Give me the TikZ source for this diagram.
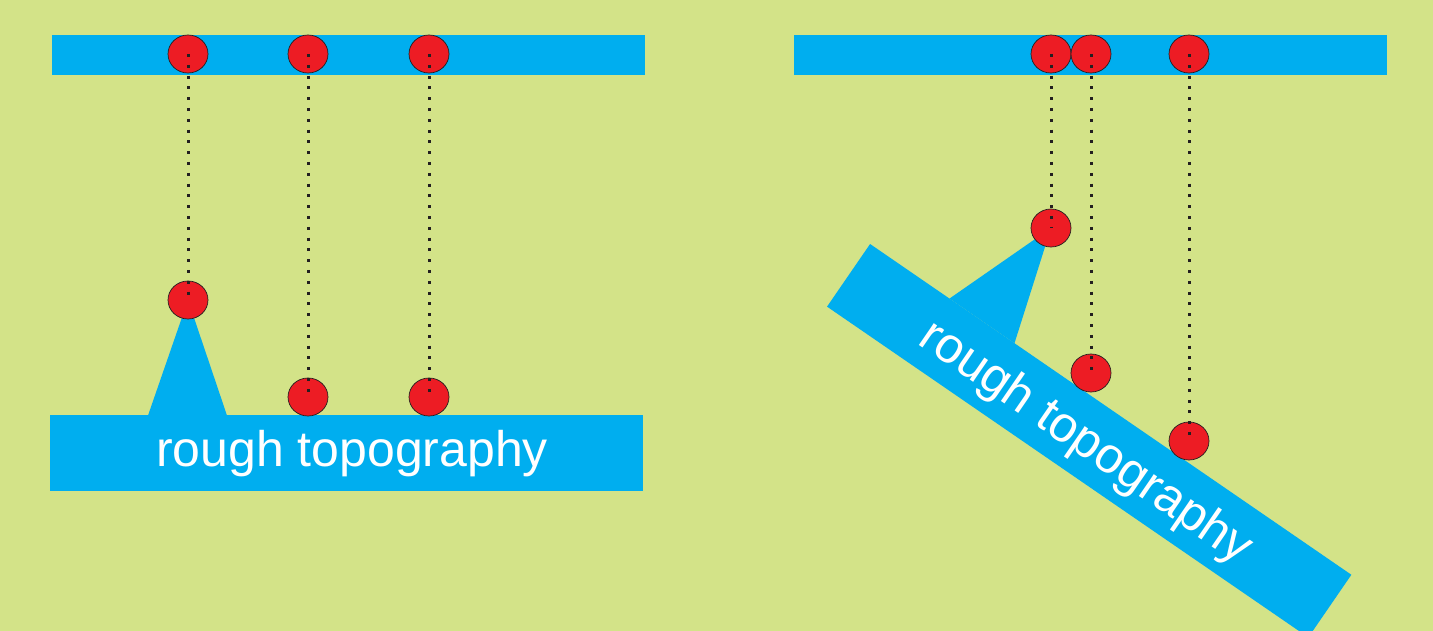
\documentclass[tikz,border=0pt]{standalone}
\usepackage{fontspec}
\setmainfont{Liberation Sans}
\usetikzlibrary{shapes.geometric,calc}
\definecolor{bg}{RGB}{211,227,136}
\definecolor{cyanbar}{RGB}{0,174,239}
\definecolor{redball}{RGB}{237,28,36}
\definecolor{ink}{RGB}{35,31,32}
\begin{document}
\begin{tikzpicture}[x=1pt,y=-1pt,
  bar/.style={rectangle, fill=cyanbar, draw=none, inner sep=0pt, outer sep=0pt},
  ball/.style={ellipse, fill=redball, draw=ink, line width=0.7pt, minimum width=40pt, minimum height=38pt, inner sep=0pt},
  hang/.style={draw=ink, line width=3pt, dash pattern=on 3pt off 7.8pt},
  bartext/.style={text=white, inner sep=0pt, anchor=base, font=\fontsize{50}{60}\selectfont}]
\fill[bg] (0,0) rectangle (1433,631);
\useasboundingbox (0,0) rectangle (1433,631);
\clip (0,0) rectangle (1433,631);

% ---------- left panel ----------
\node[bar, minimum width=593pt, minimum height=40pt] (topL) at (348.5,55) {};
\node[bar, minimum width=593pt, minimum height=76pt] (baseL) at (346.5,453) {};
\node[bartext] (textL) at (352,466) {rough topography};
\coordinate (peakL) at (188,300);
\fill[cyanbar] (148,415.5) -- (227,415.5) -- (peakL) -- cycle;

\node[ball] (tL1) at (188,54) {};
\node[ball] (tL2) at (308,54) {};
\node[ball] (tL3) at (429,54) {};
\node[ball] (bL1) at (peakL) {};
\node[ball] (bL2) at (308,397) {};
\node[ball] (bL3) at (429,397) {};

\draw[hang] (tL1.center) -- (bL1.center);
\draw[hang] (tL2.center) -- (bL2.center);
\draw[hang] (tL3.center) -- (bL3.center);

% ---------- right panel ----------
\node[bar, minimum width=593pt, minimum height=40pt] (topR) at (1090.5,55) {};
\node[bar, minimum width=584pt, minimum height=76pt, rotate=-34.5] (baseR) at (1089.2,440.7) {};
\node[bartext, rotate=-34.5] (textR) at (1078,454) {rough topography};
\coordinate (peakR) at (1051,228);
\fill[cyanbar] ($(baseR.north west)!0.165!(baseR.north east)$) -- ($(baseR.north west)!0.30!(baseR.north east)$) -- (peakR) -- cycle;

\node[ball] (tR1) at (1051,54) {};
\node[ball] (tR2) at (1091,54) {};
\node[ball] (tR3) at (1189,54) {};
\node[ball] (bR1) at (peakR) {};
\node[ball] (bR2) at (1091,373) {};
\node[ball] (bR3) at (1189,441) {};

\draw[hang] (tR1.center) -- (bR1.center);
\draw[hang] (tR2.center) -- (bR2.center);
\draw[hang] (tR3.center) -- (bR3.center);
\end{tikzpicture}
\end{document}
